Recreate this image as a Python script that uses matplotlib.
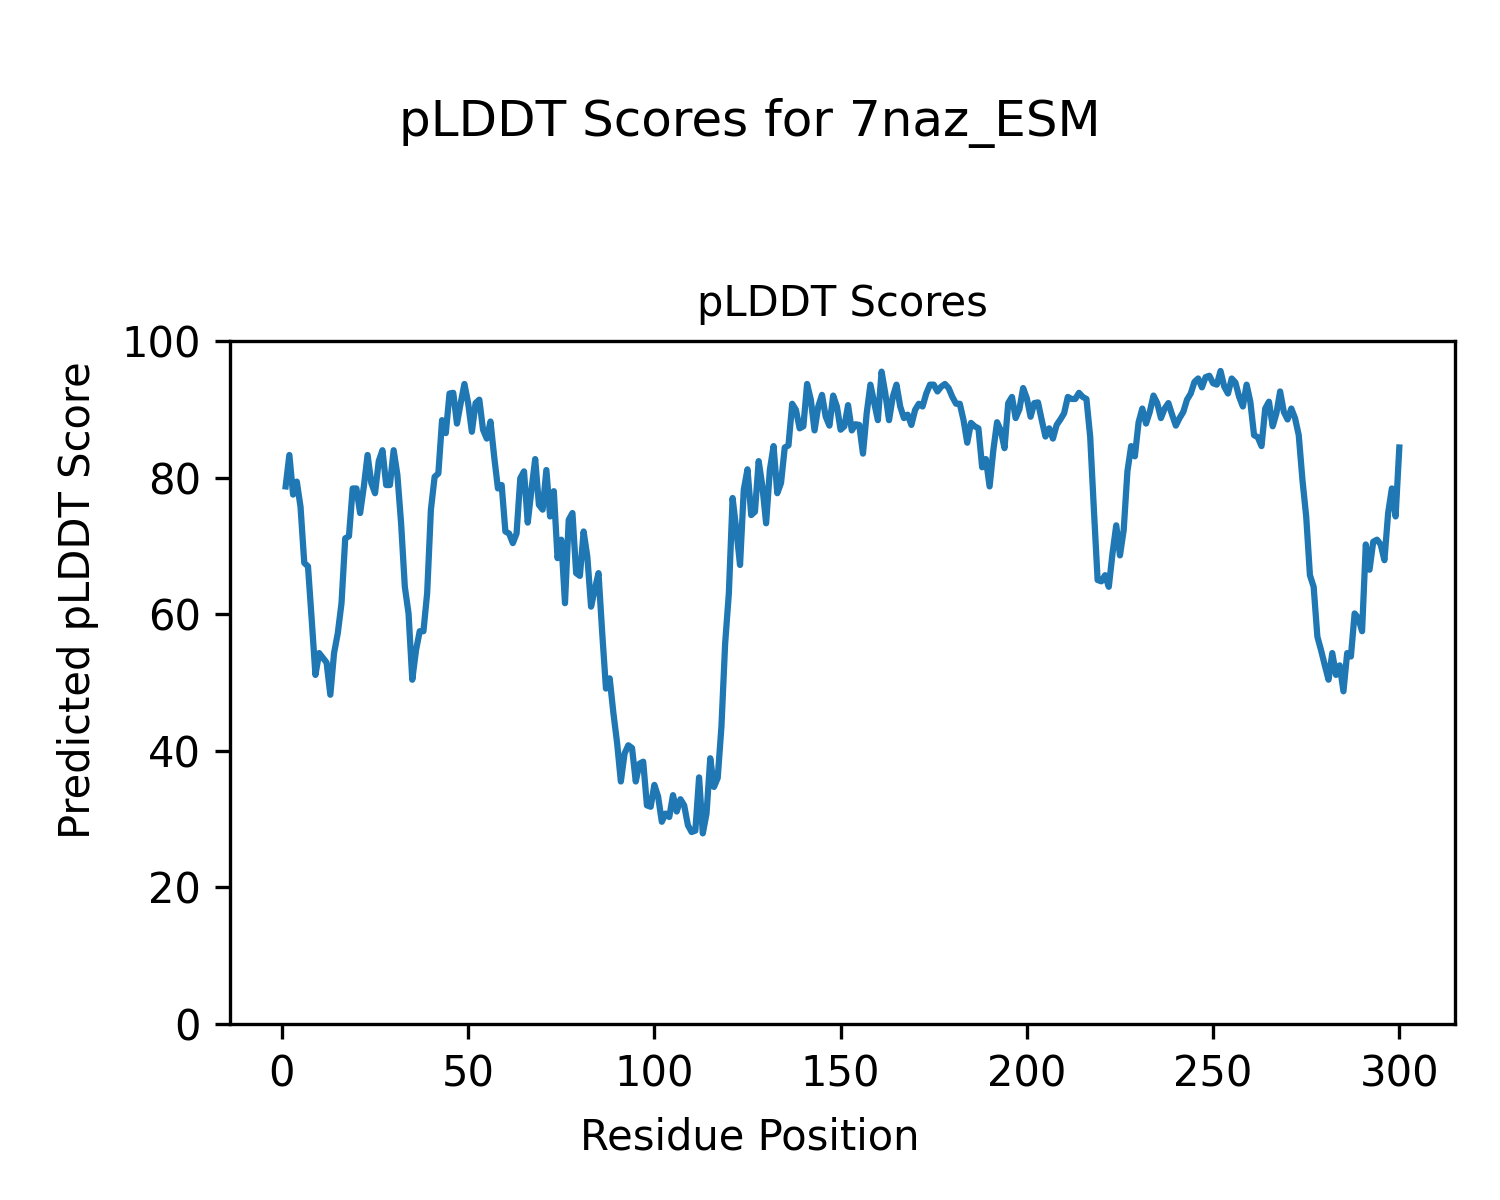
import matplotlib
matplotlib.use("Agg")
import matplotlib.pyplot as plt
import numpy as np

# pLDDT per residue
plddt = [
    78.7, 83.3, 77.5, 79.4, 75.7, 67.5, 67.0, 59.2, 51.1, 54.3,
    53.6, 52.9, 48.2, 54.3, 57.2, 61.6, 71.1, 71.4, 78.4, 78.4,
    74.8, 78.7, 83.3, 79.2, 77.7, 82.4, 84.0, 78.9, 78.9, 84.0,
    80.4, 73.3, 64.0, 60.1, 50.4, 54.7, 57.5, 57.5, 63.1, 75.3,
    80.1, 80.6, 88.4, 86.5, 92.3, 92.4, 87.9, 90.9, 93.7, 90.9,
    86.7, 90.9, 91.4, 87.0, 85.7, 88.2, 83.0, 78.4, 78.9, 72.1,
    71.8, 70.4, 71.8, 79.9, 80.9, 73.4, 78.2, 82.7, 76.0, 75.3,
    81.1, 74.3, 78.0, 68.2, 70.9, 61.6, 73.8, 74.8, 66.0, 65.6,
    72.1, 68.4, 61.1, 63.6, 66.0, 57.2, 49.1, 50.6, 45.5, 41.1,
    35.5, 39.6, 40.8, 40.4, 35.5, 38.1, 38.4, 32.0, 31.8, 35.0,
    33.3, 29.6, 30.8, 30.3, 33.5, 31.1, 32.9, 32.0, 29.1, 28.1,
    28.3, 36.1, 27.9, 30.8, 38.9, 34.7, 36.0, 43.5, 55.7, 63.1,
    77.0, 72.3, 67.2, 78.2, 81.2, 74.5, 75.0, 82.4, 78.7, 73.3,
    81.1, 84.6, 77.7, 79.2, 84.4, 84.7, 90.8, 89.9, 87.2, 87.5,
    93.7, 91.4, 86.9, 90.4, 92.1, 88.9, 87.6, 92.0, 90.4, 87.0,
    87.5, 90.6, 86.9, 87.8, 87.7, 83.5, 89.4, 93.6, 91.0, 88.4,
    95.5, 92.3, 88.4, 91.8, 93.6, 90.4, 88.7, 89.2, 87.7, 89.9,
    90.8, 90.4, 92.3, 93.6, 93.6, 92.6, 93.3, 93.7, 93.1, 91.8,
    90.8, 90.8, 88.4, 85.1, 88.0, 87.5, 87.2, 81.5, 82.7, 78.7,
    84.0, 88.1, 86.9, 84.3, 90.9, 91.8, 88.7, 90.0, 93.1, 91.6,
    88.9, 90.9, 91.0, 88.4, 86.0, 87.2, 85.7, 87.7, 88.5, 89.4,
    91.8, 91.5, 91.5, 92.4, 91.8, 91.5, 86.0, 75.3, 65.0, 64.8,
    65.7, 64.0, 68.9, 73.0, 68.6, 72.3, 80.9, 84.6, 83.1, 88.1,
    90.1, 87.9, 89.6, 92.0, 90.9, 88.7, 90.1, 90.9, 89.2, 87.6,
    88.7, 89.6, 91.4, 92.3, 94.0, 94.5, 93.2, 94.7, 94.9, 93.8,
    93.6, 95.6, 93.3, 92.3, 94.5, 93.9, 91.8, 90.4, 93.6, 91.1,
    86.2, 85.9, 84.6, 90.1, 91.1, 87.5, 89.4, 92.6, 89.6, 88.5,
    90.1, 88.7, 86.2, 79.6, 74.3, 65.7, 64.0, 56.7, 54.7, 52.5,
    50.4, 54.3, 51.1, 52.5, 48.7, 54.3, 53.8, 60.1, 59.4, 57.5,
    70.2, 66.5, 70.6, 70.9, 70.2, 67.9, 74.8, 78.4, 74.3, 84.4,
]
residues = np.arange(1, len(plddt) + 1)
yticks = [0, 20, 40, 60, 80, 100]

fig = plt.figure(figsize=(5, 4), dpi=300)
ax = fig.add_axes([0.1533, 0.1467, 0.8167, 0.5692])

ax.plot(residues, plddt, color='#1f77b4', linewidth=1.5)
ax.set_ylim(0, 100)
ax.set_yticks(yticks)
ax.set_title("pLDDT Scores", fontsize=10)

# labels sit at figure level, centred on the whole figure
fig.supxlabel("Residue Position", fontsize=10, y=0.052, va='center')
fig.supylabel("Predicted pLDDT Score", fontsize=10, x=0.052, ha='center', va='center')
fig.suptitle("pLDDT Scores for 7naz_ESM", fontsize=12, y=0.918)

fig.savefig("out.png", dpi=300)
